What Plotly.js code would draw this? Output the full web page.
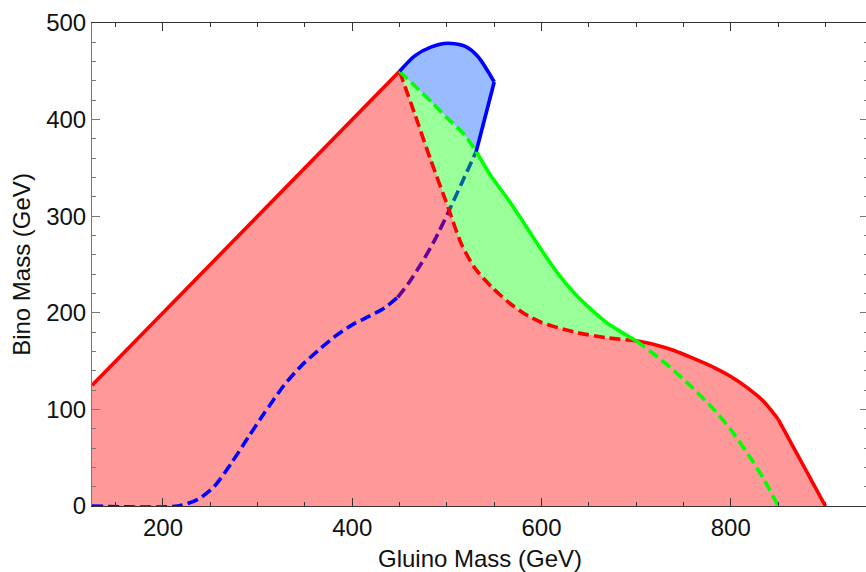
<!DOCTYPE html>
<html>
<head>
<meta charset="utf-8">
<script src="https://cdn.plot.ly/plotly-3.0.1.min.js"></script>
<style>
html,body{margin:0;padding:0;overflow:hidden;background:#fff;}
#chart{width:870px;height:572px;}
</style>
</head>
<body>
<div id="chart"></div>
<script>
// ---- data (GeV) ----
const redSolidLeftX = [125, 450];
const redSolidLeftY = [125, 450];
const redDashX = [450, 466, 483, 501, 515, 529, 547, 565, 582, 600, 635, 670, 700];
const redDashY = [450, 406, 358, 310, 272, 247, 227, 211, 199, 190, 180, 174, 171];
const redRightX = [700, 720, 740, 760, 783, 800, 818, 835, 850, 900];
const redRightY = [171, 167, 161, 153, 143, 134, 122, 108, 90, 0];
const greenDashTopX = [450, 467, 484, 501, 518, 531];
const greenDashTopY = [450, 434, 418, 401, 385, 367];
const greenSolidX = [531, 547, 565, 582, 600, 617, 635, 653, 670, 700];
const greenSolidY = [367, 341, 317, 292, 265, 241, 220, 203, 189, 171];
const greenDashLowX = [700, 723, 740, 760, 783, 800, 818, 836, 850];
const greenDashLowY = [171, 154, 140, 122, 99, 79, 54, 26, 0];
const blueSolidX = [450, 466, 483, 501, 519, 533, 550, 531];
const blueSolidY = [450, 466, 475, 479, 476, 465, 439, 367];
const blueDashX = [125, 216, 237, 254, 272, 290, 307, 328, 346, 364, 381, 399, 417, 434, 448, 459, 473, 487, 501, 516, 531];
const blueDashY = [0, 0, 7, 20, 44, 71, 96, 125, 145, 161, 175, 187, 196, 205, 216, 230, 251, 275, 303, 335, 367];
const xTicks = [200, 400, 600, 800];
const yTicks = [0, 100, 200, 300, 400, 500];

// ---- build polygons from the boundary arrays ----
const rev = a => a.slice().reverse();
const redFillX = [125].concat(redSolidLeftX, redDashX.slice(1), redRightX.slice(1), [125]);
const redFillY = [0].concat(redSolidLeftY, redDashY.slice(1), redRightY.slice(1), [0]);
const greenFillX = greenDashTopX.concat(greenSolidX.slice(1), rev(redDashX).slice(1));
const greenFillY = greenDashTopY.concat(greenSolidY.slice(1), rev(redDashY).slice(1));
const blueFillX = blueSolidX.concat(rev(greenDashTopX).slice(1));
const blueFillY = blueSolidY.concat(rev(greenDashTopY).slice(1));

const split = blueDashX.indexOf(448);
const blueOverX = blueDashX.slice(0, split + 1), blueOverY = blueDashY.slice(0, split + 1);
const blueUnderX = blueDashX.slice(split), blueUnderY = blueDashY.slice(split);

const RED = 'rgb(255,0,0)', GREEN = 'rgb(0,255,0)', BLUE = 'rgb(0,0,255)';
const DASH = '11px,5px';
const W = 3.6;

function line(x, y, color, dash, shape) {
  return {x, y, type: 'scatter', mode: 'lines', hoverinfo: 'skip', showlegend: false,
    line: {color, width: W, dash: dash || 'solid', shape: shape || 'spline', smoothing: 0.7}};
}
function fill(x, y, color) {
  return {x, y, type: 'scatter', mode: 'lines', fill: 'toself', fillcolor: color,
    hoverinfo: 'skip', showlegend: false, line: {width: 0, color: 'rgba(0,0,0,0)'}};
}

const traces = [
  line(blueUnderX, blueUnderY, BLUE, DASH),
  fill(redFillX, redFillY, 'rgba(255,0,0,0.4)'),
  fill(greenFillX, greenFillY, 'rgba(0,255,0,0.4)'),
  fill(blueFillX, blueFillY, 'rgba(0,85,255,0.4)'),
  line(blueOverX, blueOverY, BLUE, DASH),
  line(redSolidLeftX, redSolidLeftY, RED, 'solid', 'linear'),
  line(redDashX, redDashY, RED, DASH),
  line(redRightX.slice(0, 9), redRightY.slice(0, 9), RED, 'solid'),
  line(redRightX.slice(8), redRightY.slice(8), RED, 'solid', 'linear'),
  line(greenDashTopX, greenDashTopY, GREEN, DASH),
  line(greenSolidX, greenSolidY, GREEN, 'solid'),
  line(greenDashLowX, greenDashLowY, GREEN, DASH),
  line(blueSolidX.slice(0, 7), blueSolidY.slice(0, 7), BLUE, 'solid'),
  line(blueSolidX.slice(6), blueSolidY.slice(6), BLUE, 'solid', 'linear')
];

const FONT = {family: '"Liberation Sans", Arial, sans-serif', size: 24, color: '#111'};
const axisCommon = {
  showgrid: false, zeroline: false, showline: true, mirror: 'ticks',
  ticks: 'inside', ticklen: 8, tickwidth: 1, tickfont: FONT
};

const layout = {
  width: 870, height: 572,
  margin: {l: 92, r: 2, t: 23, b: 66},
  paper_bgcolor: '#fff', plot_bgcolor: '#fff',
  font: FONT,
  xaxis: Object.assign({}, axisCommon, {
    range: [125, 945], tickvals: xTicks, ticktext: xTicks.map(String),
    linecolor: '#333', tickcolor: '#333',
    minor: {dtick: 50, tick0: 0, ticks: 'inside', ticklen: 4, tickcolor: '#333', showgrid: false},
    title: {text: 'Gluino Mass (GeV)', font: FONT, standoff: 12}
  }),
  yaxis: Object.assign({}, axisCommon, {
    range: [0, 500], tickvals: yTicks, ticktext: yTicks.map(String),
    linecolor: '#777', tickcolor: '#777',
    minor: {dtick: 20, tick0: 0, ticks: 'inside', ticklen: 4, tickcolor: '#777', showgrid: false},
    title: {text: 'Bino Mass (GeV)', font: FONT, standoff: 8}
  })
};

Plotly.newPlot('chart', traces, layout, {staticPlot: true, displayModeBar: false});
</script>
</body>
</html>
